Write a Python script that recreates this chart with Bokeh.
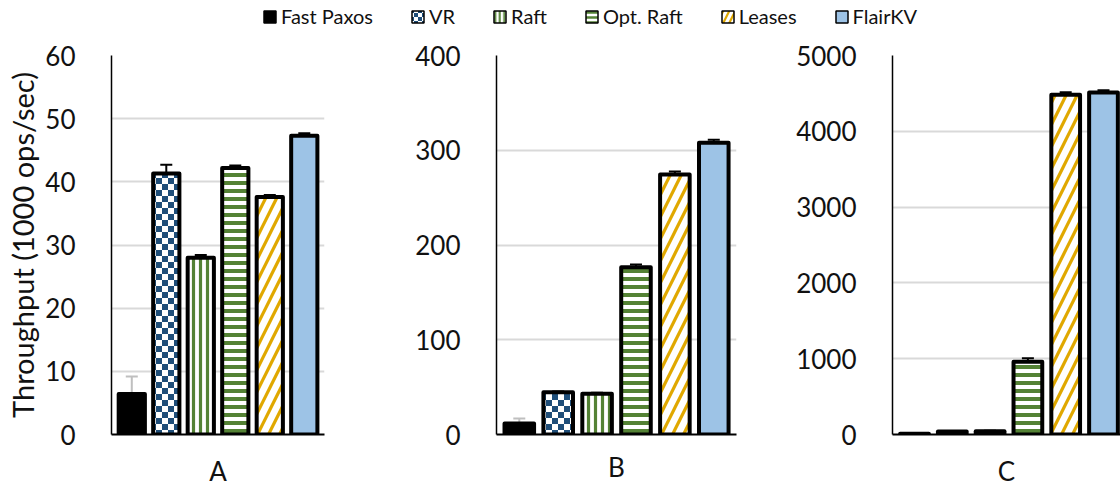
from bokeh.plotting import figure
from bokeh.models import (ColumnDataSource, Range1d, FixedTicker, Whisker, TeeHead,
                          Legend, LegendItem, CanvasTexture)
from bokeh.layouts import column, row
from bokeh.embed import file_html
from bokeh.resources import INLINE

# ---------------- data ----------------
series = ["Fast Paxos", "VR", "Raft", "Opt. Raft", "Leases", "FlairKV"]
panel_labels = ["A", "B", "C"]
values_a = [6.4, 41.3, 28.0, 42.2, 37.6, 47.3]
errors_a = [2.8, 1.4, 0.4, 0.4, 0.3, 0.4]
values_b = [11.5, 44.5, 43.0, 176.5, 274.5, 308.0]
errors_b = [5.4, 1.0, 1.0, 3.0, 3.0, 3.0]
values_c = [9, 39, 43, 961, 4481, 4511]
errors_c = [5, 8, 8, 45, 35, 30]
yticks_a = [0, 10, 20, 30, 40, 50, 60]
yticks_b = [0, 100, 200, 300, 400]
yticks_c = [0, 1000, 2000, 3000, 4000, 5000]
y_label = "Throughput (1000 ops/sec)"

# ---------------- styles ----------------
FONT = "Lato"
NAVY = "#1F4E79"
GREEN = "#548235"
GOLD = "#E0A800"
BLUE = "#9DC3E6"
TXT = "#111111"


def checker_texture(size):
    half = size // 2
    return CanvasTexture(code=f"""
const c = ctx.canvas;
c.width = {size}; c.height = {size};
ctx.setTransform(1, 0, 0, 1, 0, 0);
ctx.clearRect(0, 0, {size}, {size});
ctx.fillStyle = '{NAVY}';
ctx.fillRect(0, 0, {half}, {half});
ctx.fillRect({half}, {half}, {half}, {half});
""")


checker_bar = checker_texture(12)
checker_leg = checker_texture(8)

fills = ["black", "white", "white", "white", "white", BLUE]
hatches = ["blank", "checker", "vertical_line", "horizontal_line", "right_diagonal_line", "blank"]
hcolors = ["black", NAVY, GREEN, GREEN, GOLD, "black"]
hscales = [12, 12, 7, 8, 22, 12]
hweights = [1, 1, 3.2, 4, 3.2, 1]
lscales = [8, 8, 4.5, 5, 12, 8]
lweights = [1, 1, 2, 2.5, 2.2, 1]


def make_panel(values, errors, yticks, label, width, height, borders, xr, label_standoff, ylab=None):
    bl, br, bt, bb = borders
    p = figure(width=width, height=height, toolbar_location=None, output_backend="svg",
               x_range=Range1d(*xr), y_range=Range1d(yticks[0], yticks[-1]),
               min_border_left=bl, min_border_right=br, min_border_top=bt, min_border_bottom=bb)
    p.outline_line_color = None
    xs = [i + 0.5 for i in range(len(series))]
    src = ColumnDataSource(dict(x=xs, top=values, fill=fills, hatch=hatches, hcolor=hcolors,
                                hscale=hscales, hweight=hweights))
    p.vbar(x="x", top="top", bottom=0, width=0.76, source=src,
           fill_color="fill", hatch_pattern="hatch", hatch_color="hcolor",
           hatch_scale="hscale", hatch_weight="hweight", hatch_extra={"checker": checker_bar},
           line_color="black", line_width=4, line_join="round")

    # error bars
    for idx_set, col in (([0], "#BFBFBF"), ([1, 2, 3, 4, 5], "black")):
        esrc = ColumnDataSource(dict(
            x=[xs[i] for i in idx_set],
            upper=[values[i] + errors[i] for i in idx_set],
            lower=[values[i] - errors[i] for i in idx_set]))
        w = Whisker(source=esrc, base="x", upper="upper", lower="lower",
                    line_color=col, line_width=2,
                    upper_head=TeeHead(size=12, line_color=col, line_width=2),
                    lower_head=TeeHead(size=12, line_color=col, line_width=2))
        p.add_layout(w)

    p.xgrid.visible = False
    p.ygrid.grid_line_color = "#D9D9D9"
    p.ygrid.grid_line_width = 2
    p.ygrid.ticker = FixedTicker(ticks=yticks)

    ya = p.yaxis[0]
    ya.ticker = FixedTicker(ticks=yticks)
    ya.axis_line_color = "black"
    ya.axis_line_width = 1.5
    ya.major_tick_line_color = None
    ya.minor_tick_line_color = None
    ya.major_label_standoff = 30
    ya.major_label_text_font = FONT
    ya.major_label_text_font_size = "26px"
    ya.major_label_text_color = TXT
    if ylab:
        ya.axis_label = ylab
        ya.axis_label_text_font = FONT
        ya.axis_label_text_font_size = "29px"
        ya.axis_label_text_font_style = "normal"
        ya.axis_label_text_color = TXT
        ya.axis_label_standoff = 2

    xa = p.xaxis[0]
    xa.ticker = FixedTicker(ticks=[])
    xa.axis_line_color = "black"
    xa.axis_line_width = 2
    xa.major_tick_line_color = None
    xa.minor_tick_line_color = None
    xa.major_label_text_font_size = "0px"
    xa.major_label_standoff = 0
    xa.axis_label = label
    xa.axis_label_text_font = FONT
    xa.axis_label_text_font_size = "26px"
    xa.axis_label_text_font_style = "normal"
    xa.axis_label_text_color = TXT
    xa.axis_label_standoff = label_standoff
    return p


ROW_H = 456
pa = make_panel(values_a, errors_a, yticks_a, panel_labels[0], 360, ROW_H, (111, 36, 21, 56),
                (-0.088, 6.086), 20, ylab=y_label)
pb = make_panel(values_b, errors_b, yticks_b, panel_labels[1], 400, ROW_H, (136, 24, 21, 56),
                (-0.086, 6.084), 16)
pc = make_panel(values_c, errors_c, yticks_c, panel_labels[2], 360, ROW_H, (132, 0, 21, 56),
                (-0.082, 5.95), 20)

# ---------------- legend ----------------
# a hidden proxy renderer that only supplies the legend swatches
leg = figure(width=1120, height=34, toolbar_location=None, output_backend="svg",
             x_range=Range1d(0, 1), y_range=Range1d(0, 1), min_border=0,
             x_axis_location=None, y_axis_location=None)
leg.outline_line_color = None
leg.grid.visible = False
lsrc = ColumnDataSource(dict(x=list(range(len(series))), top=values_a, fill=fills, hatch=hatches,
                             hcolor=hcolors, hscale=lscales, hweight=lweights))
lr = leg.vbar(x="x", top="top", bottom=0, width=0.1, source=lsrc, fill_color="fill",
              hatch_pattern="hatch", hatch_color="hcolor", hatch_scale="hscale",
              hatch_weight="hweight", hatch_extra={"checker": checker_leg},
              line_color="black", line_width=1.5)
lr.visible = False
items = [LegendItem(label=name, renderers=[lr], index=i) for i, name in enumerate(series)]
legend = Legend(items=items, orientation="horizontal", location=(262, 6),
                label_text_font=FONT, label_text_font_size="20px", label_text_color=TXT,
                glyph_width=15, glyph_height=15, label_standoff=4, spacing=37,
                padding=0, margin=0, label_height=22,
                inactive_fill_alpha=0,
                border_line_color=None, background_fill_alpha=0)
leg.add_layout(legend, "center")

layout = column(leg, row(pa, pb, pc, spacing=0), spacing=0)

open("out.html", "w").write(file_html(layout, INLINE))
